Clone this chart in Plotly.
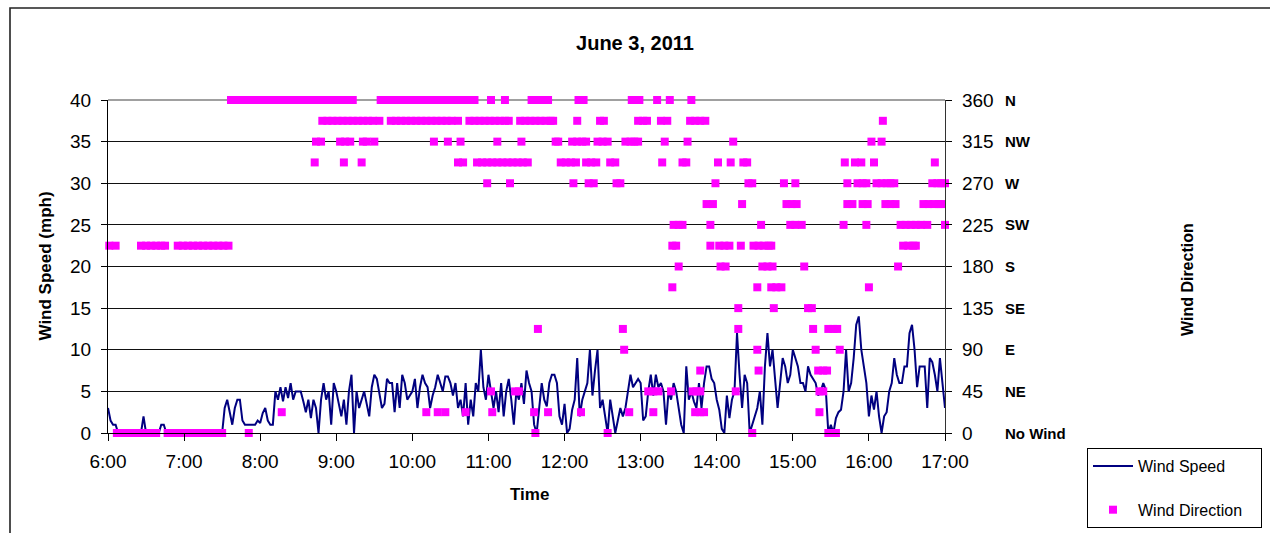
import pandas as pd
import plotly.graph_objects as go

DATE = "2011-06-03"
FONT = "Liberation Sans, Arial, sans-serif"

# ---- Wind speed (mph), one reading every 2 minutes from 6:00 to 17:00 ----
speed = [
    3, 1.5, 1, 1, 0, 0, 0, 0, 0, 0,            # 6:00
    0, 0, 0, 0, 2, 0, 0, 0, 0, 0,              # 6:20
    0, 1, 1, 0, 0, 0, 0, 0, 0, 0,              # 6:40
    0, 0, 0, 0, 0, 0, 0, 0, 0, 0,              # 7:00
    0, 0, 0, 0, 0, 0, 3, 4, 2.5, 1,            # 7:20
    3, 4, 4, 1.5, 1, 1, 1, 1, 1, 1.5,          # 7:40
    1.2, 2.4, 3, 1.5, 1, 1, 5, 4, 5.5, 3.8,    # 8:00
    5.5, 4.2, 6, 4, 5, 5, 5, 3.8, 2.5, 4,      # 8:20
    1.8, 4, 3, 0, 4, 6, 4, 5, 1, 6,            # 8:40
    5, 3.5, 2, 4, 1, 5, 7, 0, 5, 3,            # 9:00
    4, 5, 3.5, 2, 5.5, 7, 6.5, 4.5, 3, 3.5,    # 9:20
    6.5, 6, 6, 2.5, 6, 3, 7, 6, 4, 4.5,        # 9:40
    5, 6.5, 3, 5.5, 7, 6, 5.5, 3, 4.5, 5.5,    # 10:00
    7, 6, 5, 6.8, 6.8, 6, 4.5, 6, 3, 4,        # 10:20
    2, 6, 1, 4, 2, 6, 5, 10, 5.5, 4,           # 10:40
    7, 5, 3, 5, 2.5, 6, 2, 5, 6.5, 4,          # 11:00
    1, 5, 4, 6, 3.5, 7.5, 6, 5, 1, 0,          # 11:20
    2.8, 6, 4, 3.2, 6, 7, 7, 6, 2, 1,          # 11:40
    3.5, 0, 0.5, 2.8, 4, 9, 2, 4, 5, 6,        # 12:00
    10, 4.5, 7.5, 10, 3, 4, 2, 0, 4, 2,        # 12:20
    0, 1.5, 3, 2, 3, 5, 7, 5.5, 6, 6.5,        # 12:40
    6, 1.5, 2, 5, 7, 4.5, 7, 5.5, 6, 5,        # 13:00
    1, 5, 4, 6, 5, 3, 1, 0, 8, 4,              # 13:20
    5, 3.8, 3, 6, 3, 6, 8, 8, 6.5, 6,          # 13:40
    4, 2.8, 0.5, 0, 4.5, 1.8, 4, 5, 12, 7,     # 14:00
    3, 7, 6, 0, 1, 2, 3, 5, 1, 8,              # 14:20
    12, 8, 10, 6.5, 3, 6, 9, 8, 6, 7,          # 14:40
    10, 9, 8, 6, 6, 5, 8, 7, 6.5, 6,           # 15:00
    4.5, 5, 6, 5.2, 0, 1, 0, 1.8, 2.5, 2.8,    # 15:20
    5, 10, 5, 6, 9, 13, 14, 10, 8, 6,          # 15:40
    2, 4.5, 2.8, 5, 2, 0, 2, 2.5, 5, 6,        # 16:00
    9, 7, 6, 6, 8, 8, 12, 13, 10, 5.5,         # 16:20
    8, 8, 8, 3, 9, 8.5, 7, 5, 9, 6,            # 16:40
    3,                                         # 17:00
]

# ---- Wind direction readings (time of each plotted square) per compass level ----
dir_N = ["7:37", "7:41", "7:45", "7:49", "7:53", "7:57", "8:01", "8:05", "8:09", "8:13",
         "8:17", "8:21", "8:25", "8:29", "8:33", "8:37", "8:41", "8:45", "8:49", "8:53",
         "8:57", "9:01", "9:05", "9:09", "9:13",
         "9:35", "9:39", "9:43", "9:47", "9:51", "9:55", "9:59", "10:03", "10:07", "10:11",
         "10:15", "10:19", "10:23", "10:27", "10:31", "10:35", "10:39", "10:43", "10:47", "10:49",
         "11:02", "11:13", "11:34", "11:38", "11:42", "11:47", "12:11", "12:15", "12:53", "12:56",
         "12:59", "13:13", "13:23", "13:40"]
dir_NNW = ["8:49", "8:53", "8:57", "9:01", "9:05", "9:09", "9:13", "9:17", "9:21", "9:25",
           "9:29", "9:34", "9:43", "9:47", "9:51", "9:55", "9:59", "10:03", "10:07", "10:11",
           "10:15", "10:19", "10:23", "10:27", "10:31", "10:36", "10:45", "10:49", "10:53", "10:57",
           "11:01", "11:05", "11:09", "11:13", "11:16", "11:25", "11:29", "11:33", "11:37", "11:41",
           "11:45", "11:49", "11:51", "12:10", "12:28", "12:31", "12:58", "13:02", "13:05", "13:16",
           "13:21", "13:39", "13:43", "13:47", "13:51", "16:11"]
dir_NW = ["8:44", "8:48", "9:03", "9:07", "9:11", "9:21", "9:24", "9:30", "10:17", "10:28",
          "10:38", "11:07", "11:26", "11:53", "11:55", "12:06", "12:10", "12:14", "12:17", "12:26",
          "12:30", "12:34", "12:48", "12:52", "12:55", "12:58", "13:19", "13:37", "14:13", "16:02",
          "16:10"]
dir_WNW = ["8:43", "9:06", "9:20", "10:36", "10:40", "10:51", "10:55", "10:59", "11:03", "11:07",
           "11:11", "11:15", "11:19", "11:23", "11:27", "11:31", "11:57", "12:01", "12:05", "12:09",
           "12:17", "12:21", "12:25", "12:36", "12:40", "13:17", "13:33", "13:36", "14:01", "14:11",
           "14:21", "14:24", "15:41", "15:49", "15:54", "16:04", "16:52"]
dir_W = ["10:59", "11:17", "12:07", "12:19", "12:23", "12:41", "12:44", "13:59", "14:25", "14:28",
         "14:53", "15:02", "15:43", "15:51", "15:55", "15:58", "16:06", "16:10", "16:14", "16:17",
         "16:20", "16:50", "16:54", "16:57", "17:00"]
dir_WSW = ["13:52", "13:57", "14:20", "14:55", "14:59", "15:03", "15:43", "15:47", "15:55", "15:59",
           "16:13", "16:17", "16:21", "16:43", "16:47", "16:51", "16:55", "16:57"]
dir_SW = ["13:26", "13:30", "13:33", "13:55", "14:35", "14:58", "15:02", "15:07", "15:40", "15:58",
          "16:25", "16:29", "16:33", "16:37", "16:41", "16:46", "17:00"]
dir_SSW = ["6:01", "6:06", "6:26", "6:30", "6:34", "6:38", "6:42", "6:45", "6:55", "6:59",
           "7:03", "7:07", "7:11", "7:15", "7:19", "7:23", "7:27", "7:31", "7:35", "13:25",
           "13:28", "13:55", "14:02", "14:06", "14:10", "14:19", "14:29", "14:33", "14:37", "14:41",
           "14:43", "16:27", "16:31", "16:35", "16:37"]
dir_S = ["13:30", "14:03", "14:07", "14:36", "14:40", "14:44", "15:09", "16:23"]
dir_SSE = ["13:25", "14:32", "14:43", "14:47", "14:51", "16:00"]
dir_SE = ["14:17", "14:45", "15:12", "15:15"]
dir_ESE = ["11:39", "12:46", "14:17", "15:16", "15:28", "15:32", "15:35"]
dir_E = ["12:47", "14:32", "15:18", "15:37"]
dir_ENE = ["13:47", "14:33", "15:20", "15:24", "15:27"]
dir_NE = ["11:02", "11:21", "11:24", "13:06", "13:10", "13:14", "13:24", "13:41", "13:44", "13:47",
          "14:15", "15:21", "15:24"]
dir_NNE = ["8:17", "10:11", "10:20", "10:26", "10:42", "11:03", "11:36", "11:47", "12:13", "12:51",
           "13:10", "13:43", "13:47", "13:50", "15:21"]
dir_calm = ["6:07", "6:11", "6:15", "6:19", "6:23", "6:27", "6:31", "6:35", "6:38", "6:47",
            "6:51", "6:55", "6:59", "7:03", "7:07", "7:11", "7:15", "7:19", "7:23", "7:27",
            "7:30", "7:51", "11:37", "12:34", "14:28", "15:28", "15:31", "15:34"]

dir_degrees = [360, 337.5, 315, 292.5, 270, 247.5, 225, 202.5, 180,
               157.5, 135, 112.5, 90, 67.5, 45, 22.5, 0]
dir_lists = [dir_N, dir_NNW, dir_NW, dir_WNW, dir_W, dir_WSW, dir_SW, dir_SSW, dir_S,
             dir_SSE, dir_SE, dir_ESE, dir_E, dir_ENE, dir_NE, dir_NNE, dir_calm]

# ---- axis ticks / labels ----
speed_ticks = [0, 5, 10, 15, 20, 25, 30, 35, 40]
dir_ticks = [0, 45, 90, 135, 180, 225, 270, 315, 360]
dir_names = ["No Wind", "NE", "E", "SE", "S", "SW", "W", "NW", "N"]
hour_labels = ["6:00", "7:00", "8:00", "9:00", "10:00", "11:00", "12:00",
               "13:00", "14:00", "15:00", "16:00", "17:00"]


def stamp(hm):
    h, m = hm.split(":")
    return f"{DATE} {int(h):02d}:{m}"


times = pd.date_range(f"{DATE} 06:00", f"{DATE} 17:00", freq="2min")
assert len(times) == len(speed), (len(times), len(speed))

dir_x, dir_y = [], []
for deg, lst in zip(dir_degrees, dir_lists):
    for hm in lst:
        dir_x.append(stamp(hm))
        dir_y.append(deg)

hour_vals = [stamp(h) for h in hour_labels]

NBSP = "\u00a0"
fig = go.Figure()
fig.add_trace(go.Scatter(
    x=times, y=speed, mode="lines", name="Wind Speed",
    line=dict(color="#000080", width=2), yaxis="y", legendgroup="a",
))
fig.add_trace(go.Scatter(
    x=dir_x, y=dir_y, mode="markers", name="Wind Direction" + NBSP * 3,
    marker=dict(symbol="square", size=8, color="#FF00FF", line=dict(width=0)),
    yaxis="y2", cliponaxis=False, legendgroup="b",
))

# plot area in px: x 108..945, y 100..433
PL, PR, PT, PB = 108, 945, 100, 433
PW, PH = PR - PL, PB - PT


def px_x(px):
    return (px - PL) / PW


def px_y(py):
    return (PB - py) / PH


annotations = [
    dict(text="<b>Wind Speed (mph)</b>", xref="paper", yref="paper",
         x=px_x(45), y=0.5, xanchor="center", yanchor="middle",
         textangle=-90, showarrow=False,
         font=dict(size=17, family=FONT, color="black")),
    dict(text="<b>Time</b>", xref="paper", yref="paper",
         x=px_x(529), y=px_y(494), xanchor="center", yanchor="middle",
         showarrow=False, font=dict(size=17, family=FONT, color="black")),
    dict(text="<b>Wind Direction</b>", xref="paper", yref="paper",
         x=px_x(1187), y=px_y(280), xanchor="center", yanchor="middle",
         textangle=-90, showarrow=False,
         font=dict(size=16, family=FONT, color="black")),
]
for deg, name in zip(dir_ticks, dir_names):
    annotations.append(dict(
        text=f"<b>{name}</b>", xref="paper", yref="y2", x=px_x(1003), y=deg,
        xanchor="left", yanchor="middle", showarrow=False,
        font=dict(size=15, family=FONT, color="black")))

shapes = [
    # outer chart frame
    dict(type="rect", xref="paper", yref="paper",
         x0=px_x(10), x1=px_x(1280), y0=px_y(545), y1=px_y(8),
         line=dict(color="#222222", width=1.6), fillcolor="rgba(0,0,0,0)", layer="below"),
    # grey top border of plot area
    dict(type="line", xref="paper", yref="paper", x0=0, x1=1, y0=1, y1=1,
         line=dict(color="#808080", width=1.5), layer="between"),
]

tickfont = dict(size=19, family=FONT, color="black")
fig.update_layout(
    width=1270, height=533, autosize=False,
    margin=dict(l=PL, r=1270 - PR, t=PT, b=533 - PB, autoexpand=False),
    paper_bgcolor="white", plot_bgcolor="white",
    font=dict(family=FONT, color="black"),
    title=dict(text="<b>June 3, 2011</b>", x=0.5, xref="container", xanchor="center",
               y=1 - 43 / 533, yref="container", yanchor="middle",
               font=dict(size=20, family=FONT, color="black")),
    xaxis=dict(type="date", range=[stamp("6:00"), stamp("17:00")],
               tickvals=hour_vals, ticktext=hour_labels, tickfont=tickfont,
               ticks="outside", ticklen=7, tickcolor="black", tickwidth=1,
               showline=True, linecolor="black", linewidth=1.3,
               showgrid=False, zeroline=False, ticklabelstandoff=4),
    yaxis=dict(range=[0, 40], tickvals=speed_ticks, tickfont=tickfont,
               ticks="outside", ticklen=6, tickcolor="black",
               showline=True, linecolor="black", linewidth=1.3,
               showgrid=True, gridcolor="#111111", gridwidth=1,
               zeroline=False, ticklabelstandoff=6),
    yaxis2=dict(range=[0, 360], tickvals=dir_ticks, tickfont=tickfont,
                overlaying="y", side="right", anchor="x",
                ticks="outside", ticklen=6, tickcolor="black",
                showline=True, linecolor="#333333", linewidth=1.3,
                showgrid=False, zeroline=False, ticklabelstandoff=6),
    legend=dict(x=px_x(1087), y=px_y(448), xanchor="left", yanchor="top",
                bordercolor="black", borderwidth=1, bgcolor="white",
                font=dict(size=16, family=FONT, color="black"),
                traceorder="grouped", tracegroupgap=20, itemwidth=40),
    annotations=annotations,
    shapes=shapes,
    showlegend=True,
)

fig.write_html("out.html")
